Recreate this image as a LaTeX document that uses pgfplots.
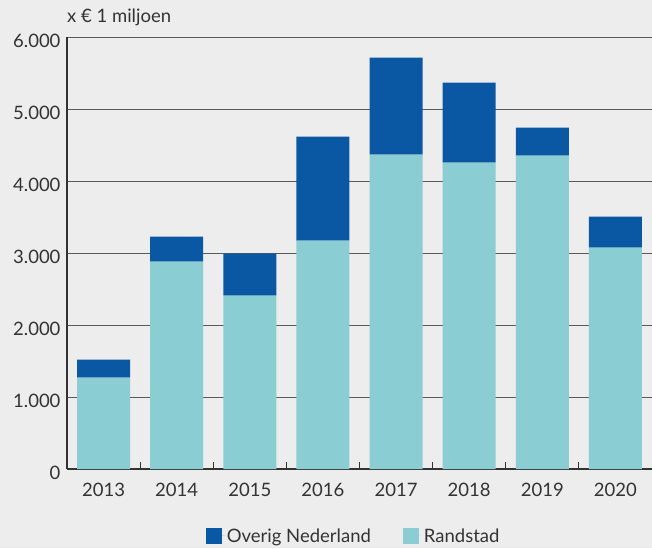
\documentclass[border=0pt]{standalone}
\usepackage{fontspec}
\setmainfont{Lato}
\usepackage{pgfplots}
\pgfplotsset{compat=1.18}
\definecolor{bg}{HTML}{EDEDED}
\definecolor{rand}{HTML}{8ACDD3}
\definecolor{overig}{HTML}{0A57A4}
\definecolor{txt}{HTML}{333333}
\definecolor{gridc}{HTML}{5A5A5A}
\begin{document}
\begin{tikzpicture}
\fill[bg] (-67pt,-79pt) rectangle (585pt,469pt);
\useasboundingbox (-67pt,-79pt) rectangle (585pt,469pt);
\begin{axis}[
  at={(0,0)}, anchor=south west,
  scale only axis, width=585pt, height=432pt,
  clip=false,
  font=\fontsize{18.5}{22}\selectfont,
  ybar stacked, bar width=53pt,
  xmin=-0.5, xmax=7.5, ymin=0, ymax=6000,
  xtick={0,...,7},
  xticklabels={2013,2014,2015,2016,2017,2018,2019,2020},
  minor xtick={0.5,1.5,...,7.5},
  major x tick style={draw=none},
  minor x tick style={draw=txt, line width=1pt},
  minor tick length=7pt,
  ytick={0,1000,...,6000},
  major y tick style={draw=none},
  ymajorgrids,
  major grid style={draw=gridc, line width=1pt},
  axis lines*=left,
  axis line style={draw=txt, line width=1.2pt},
  tick pos=left,
  /pgf/number format/.cd, 1000 sep={.}, assume math mode=true,
  /pgfplots/.cd,
  yticklabel style={text=txt, xshift=-3pt, yshift=-4pt},
  xticklabel style={text=txt, yshift=-11pt},
  legend style={draw=none, fill=none, at={(0.49,-0.155)}, anchor=center,
    legend columns=2, /tikz/every even column/.append style={column sep=30pt},
    text=txt, font=\fontsize{18.5}{22}\selectfont},
  legend image code/.code={\fill[#1] (0pt,-8pt) rectangle (16pt,8pt); \path (0pt,0pt) -- (19pt,0pt);},
  reverse legend,
]
\addplot[fill=rand, draw=none] coordinates {(0,1268) (1,2879) (2,2407) (3,3171) (4,4365) (5,4254) (6,4351) (7,3074)};
\addplot[fill=overig, draw=none] coordinates {(0,250) (1,347) (2,583) (3,1444) (4,1348) (5,1111) (6,389) (7,430)};
\legend{Randstad, Overig Nederland}
\node[anchor=base west, text=txt, font=\fontsize{18.5}{22}\selectfont, inner sep=0pt] at (rel axis cs:0,1) [yshift=15pt] {x € 1 miljoen};
\end{axis}
\end{tikzpicture}
\end{document}
